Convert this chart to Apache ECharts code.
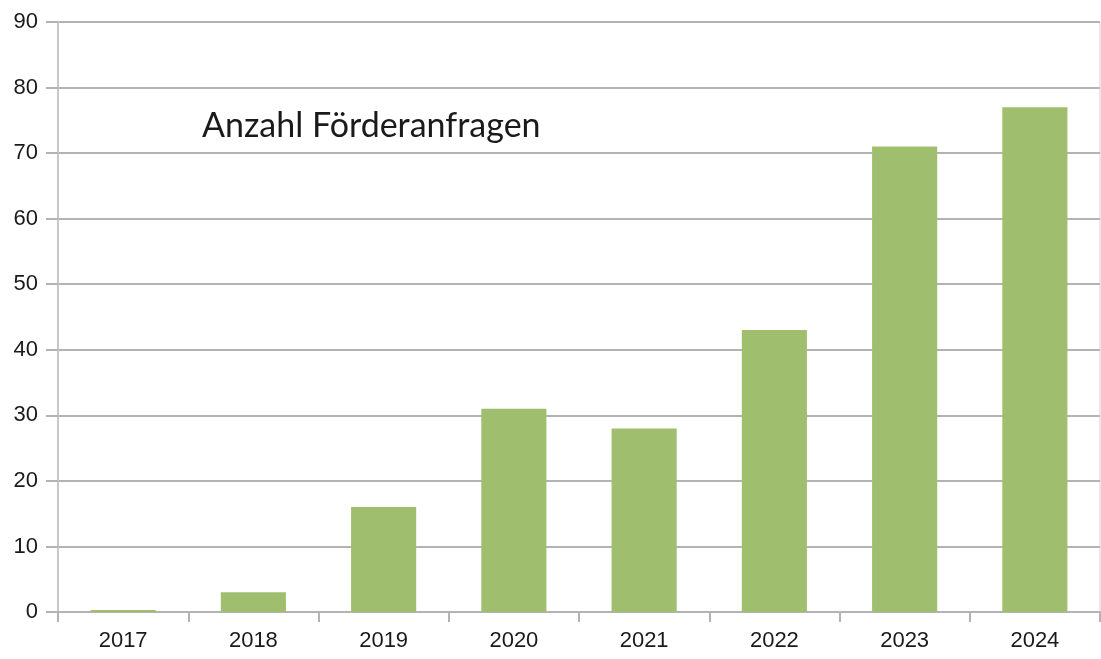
<!DOCTYPE html>
<html><head><meta charset="utf-8">
<script src="https://cdn.jsdelivr.net/npm/echarts@6/dist/echarts.min.js"></script>
<style>html,body{margin:0;padding:0;background:#fff}#c{width:1101px;height:659px}</style>
</head><body><div id="c"></div>
<script>
const categories = ['2017','2018','2019','2020','2021','2022','2023','2024'];
const values = [0, 3, 16, 31, 28, 43, 71, 77];
const titleText = 'Anzahl Förderanfragen';
const chart = echarts.init(document.getElementById('c'), null, {renderer:'canvas'});
chart.setOption({
  animation: false,
  backgroundColor: '#fff',
  title: {
    text: titleText, left: 197, top: 104,
    textStyle: {fontFamily: 'Lato', fontWeight: 'normal', fontSize: 34, color: '#1a1a1a'}
  },
  grid: {left: 58, right: 1, top: 22, bottom: 47, containLabel: false},
  xAxis: {
    type: 'category', data: categories,
    axisLine: {show: true, lineStyle: {color: '#b3b3b3', width: 2}},
    axisTick: {show: true, length: 10, interval: 0, lineStyle: {color: '#b3b3b3', width: 2}},
    axisLabel: {margin: 18, fontFamily: 'Liberation Sans', fontSize: 22, color: '#1a1a1a'},
    splitLine: {show: false}
  },
  yAxis: {
    type: 'value', min: 0, max: 90, interval: 10,
    axisLine: {show: true, lineStyle: {color: '#c8c8c8', width: 2}},
    axisTick: {show: true, length: 12, lineStyle: {color: '#b3b3b3', width: 2}},
    axisLabel: {margin: 20, fontFamily: 'Liberation Sans', fontSize: 22, color: '#1a1a1a'},
    splitLine: {show: true, lineStyle: {color: '#b3b3b3', width: 2}}
  },
  graphic: [{
    type: 'line', shape: {x1: 1100, y1: 22, x2: 1100, y2: 612},
    style: {stroke: '#d0d0d0', lineWidth: 1}
  }],
  series: [{
    type: 'bar', data: values, barWidth: '50%', barMinHeight: 2,
    itemStyle: {color: '#a0bf6e'}
  }]
});
</script></body></html>
